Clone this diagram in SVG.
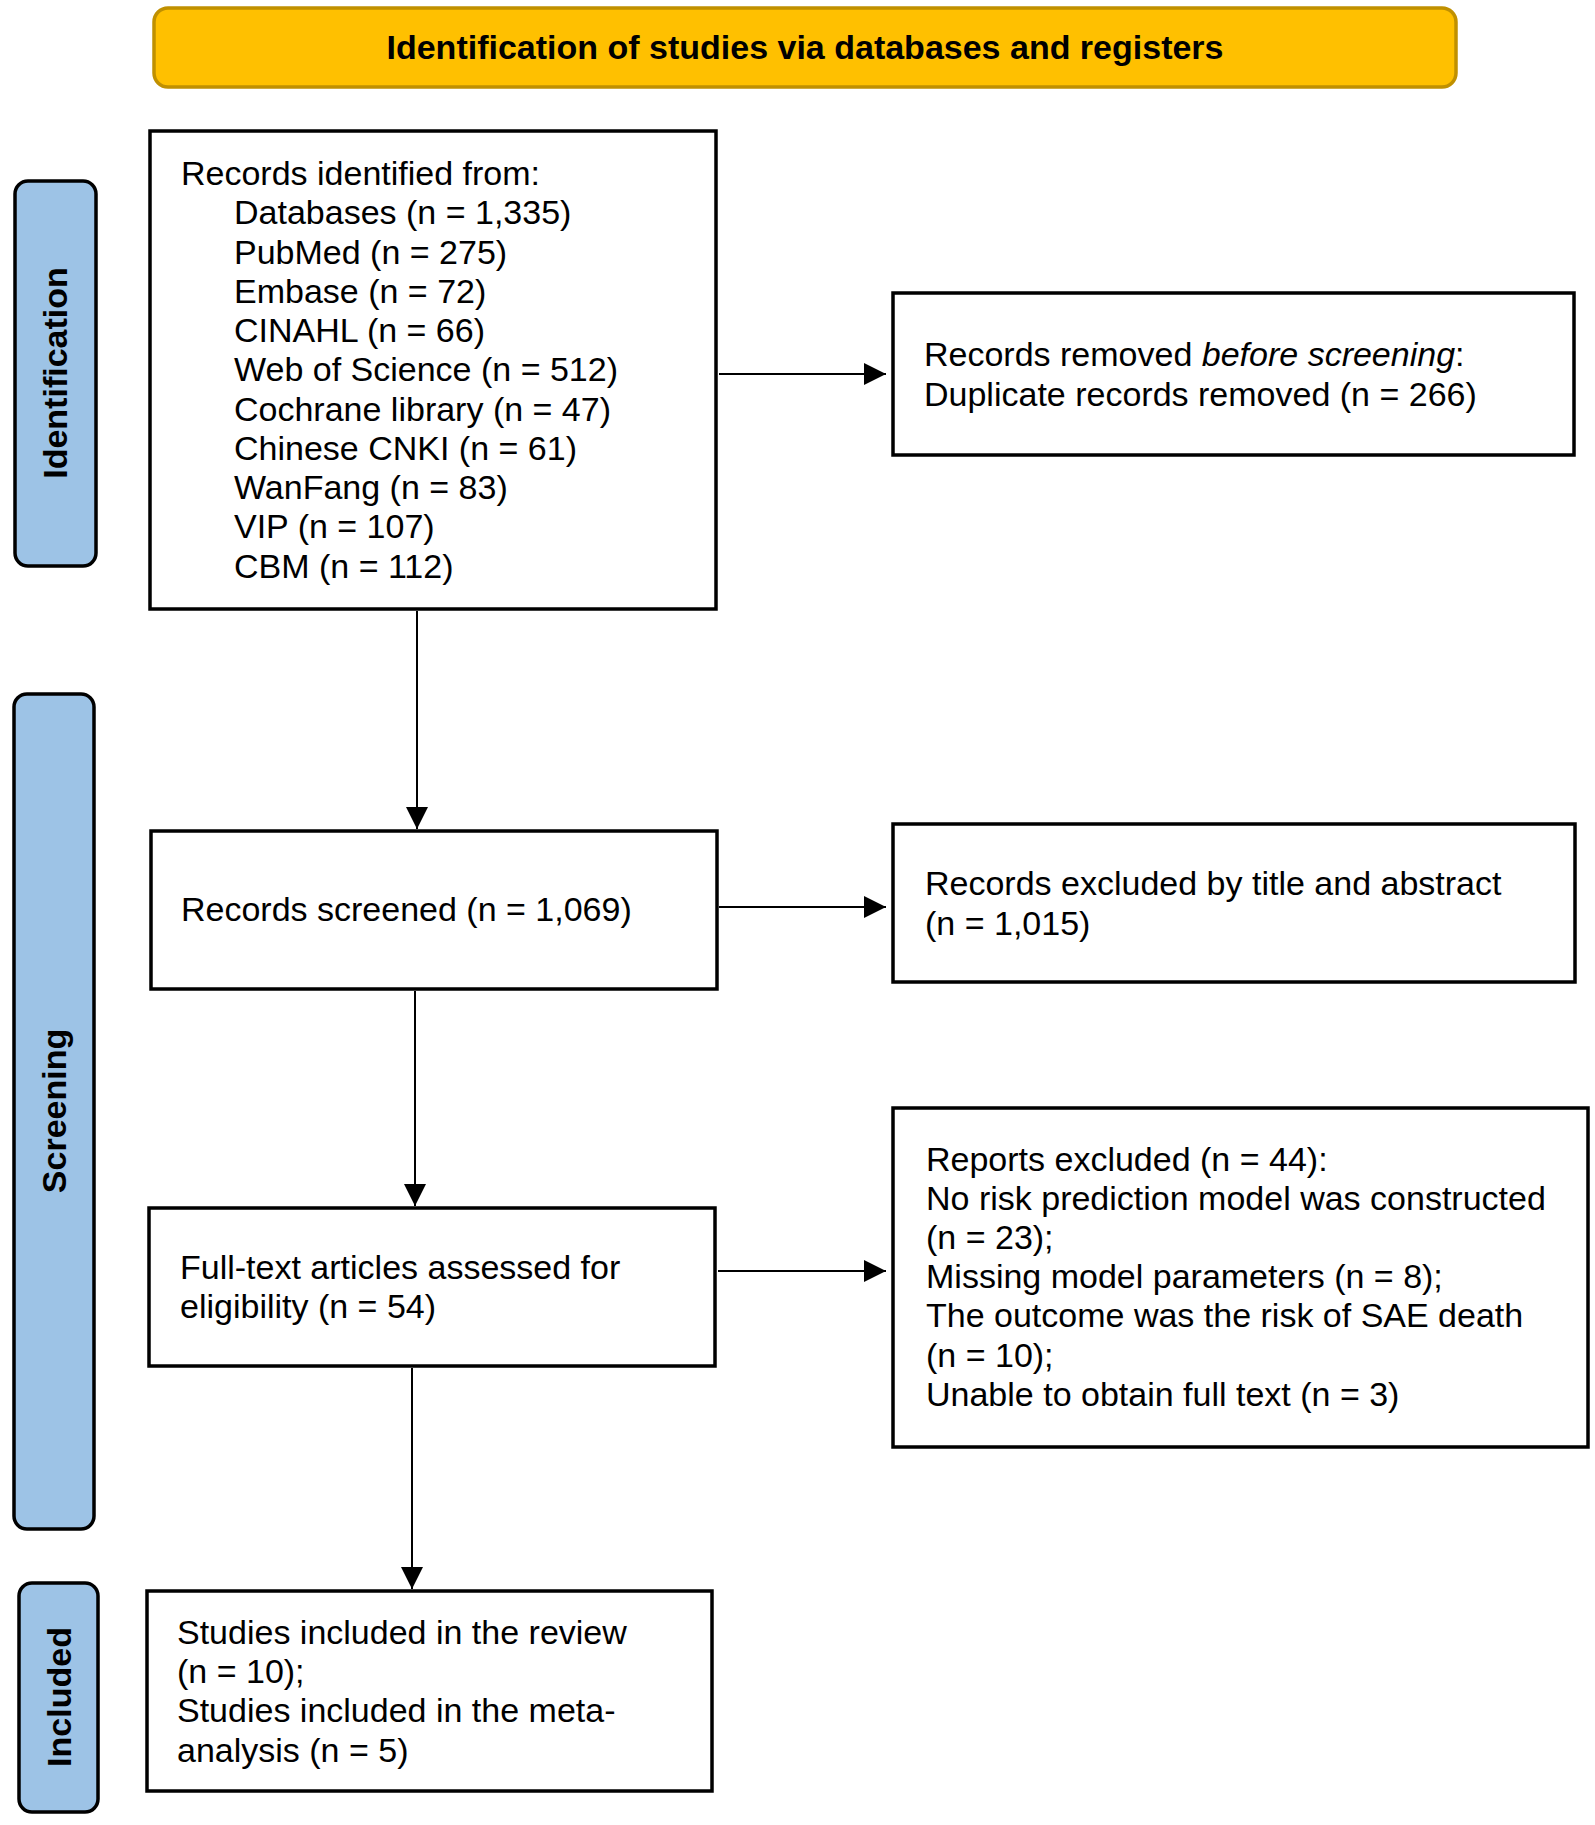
<svg xmlns="http://www.w3.org/2000/svg" width="1595" height="1825" viewBox="0 0 1595 1825">
<style>
  .box { fill: #ffffff; stroke: #000000; stroke-width: 3.5; }
  .side { fill: #9DC3E6; stroke: #000000; stroke-width: 3.5; }
  .hdr { fill: #FFC000; stroke: #C09000; stroke-width: 3.5; }
  .t { font-family: "Liberation Sans", Arial, sans-serif; font-size: 34px; fill: #000000; }
  .b { font-family: "Liberation Sans", Arial, sans-serif; font-size: 34px; font-weight: bold; fill: #000000; }
  .conn { stroke: #000000; stroke-width: 2; fill: none; marker-end: url(#arrow); }
</style>
<defs>
  <marker id="arrow" markerUnits="userSpaceOnUse" viewBox="0 0 22 22" refX="22" refY="11" markerWidth="22" markerHeight="22" orient="auto">
    <path d="M0,0 L22,11 L0,22 Z" fill="#000000"/>
  </marker>
</defs>
<rect width="1595" height="1825" fill="#ffffff"/>

<g id="header">
  <rect class="hdr" x="154" y="8" width="1302" height="79" rx="14" ry="14"/>
  <text class="b" x="805" y="59" text-anchor="middle">Identification of studies via databases and registers</text>
</g>

<g id="side-identification">
  <rect class="side" x="15" y="181" width="81" height="385" rx="13" ry="13"/>
  <text class="b" transform="translate(67,373) rotate(-90)" text-anchor="middle">Identification</text>
</g>
<g id="side-screening">
  <rect class="side" x="14" y="694" width="80" height="835" rx="13" ry="13"/>
  <text class="b" transform="translate(66,1111) rotate(-90)" text-anchor="middle">Screening</text>
</g>
<g id="side-included">
  <rect class="side" x="19" y="1583" width="79" height="229" rx="13" ry="13"/>
  <text class="b" transform="translate(71,1697) rotate(-90)" text-anchor="middle">Included</text>
</g>

<g id="records-identified">
  <rect class="box" x="150" y="131" width="566" height="478"/>
  <text class="t" x="181" y="185">Records identified from:</text>
  <text class="t" x="234" y="224.3">Databases (n = 1,335)</text>
  <text class="t" x="234" y="263.5">PubMed (n = 275)</text>
  <text class="t" x="234" y="302.8">Embase (n = 72)</text>
  <text class="t" x="234" y="342">CINAHL (n = 66)</text>
  <text class="t" x="234" y="381.3">Web of Science (n = 512)</text>
  <text class="t" x="234" y="420.5">Cochrane library (n = 47)</text>
  <text class="t" x="234" y="459.8">Chinese CNKI (n = 61)</text>
  <text class="t" x="234" y="499">WanFang (n = 83)</text>
  <text class="t" x="234" y="538.3">VIP (n = 107)</text>
  <text class="t" x="234" y="577.5">CBM (n = 112)</text>
</g>

<g id="records-removed">
  <rect class="box" x="893" y="293" width="681" height="162"/>
  <text class="t" x="924" y="366">Records removed <tspan font-style="italic">before screening</tspan>:</text>
  <text class="t" x="924" y="406">Duplicate records removed (n = 266)</text>
</g>

<g id="records-screened">
  <rect class="box" x="151" y="831" width="566" height="158"/>
  <text class="t" x="181" y="921">Records screened (n = 1,069)</text>
</g>

<g id="records-excluded">
  <rect class="box" x="893" y="824" width="682" height="158"/>
  <text class="t" x="925" y="895">Records excluded by title and abstract</text>
  <text class="t" x="925" y="935">(n = 1,015)</text>
</g>

<g id="full-text">
  <rect class="box" x="149" y="1208" width="566" height="158"/>
  <text class="t" x="180" y="1279">Full-text articles assessed for</text>
  <text class="t" x="180" y="1318">eligibility (n = 54)</text>
</g>

<g id="reports-excluded">
  <rect class="box" x="893" y="1108" width="695" height="339"/>
  <text class="t" x="926" y="1171">Reports excluded (n = 44):</text>
  <text class="t" x="926" y="1210">No risk prediction model was constructed</text>
  <text class="t" x="926" y="1249">(n = 23);</text>
  <text class="t" x="926" y="1288">Missing model parameters (n = 8);</text>
  <text class="t" x="926" y="1327">The outcome was the risk of SAE death</text>
  <text class="t" x="926" y="1367">(n = 10);</text>
  <text class="t" x="926" y="1406">Unable to obtain full text (n = 3)</text>
</g>

<g id="included">
  <rect class="box" x="147" y="1591" width="565" height="200"/>
  <text class="t" x="177" y="1644">Studies included in the review</text>
  <text class="t" x="177" y="1683">(n = 10);</text>
  <text class="t" x="177" y="1722">Studies included in the meta-</text>
  <text class="t" x="177" y="1762">analysis (n = 5)</text>
</g>

<g id="connectors">
  <path class="conn" d="M719,374 L886,374"/>
  <path class="conn" d="M417,611 L417,829"/>
  <path class="conn" d="M719,907 L886,907"/>
  <path class="conn" d="M415,991 L415,1206"/>
  <path class="conn" d="M718,1271 L886,1271"/>
  <path class="conn" d="M412,1368 L412,1589"/>
</g>
</svg>
